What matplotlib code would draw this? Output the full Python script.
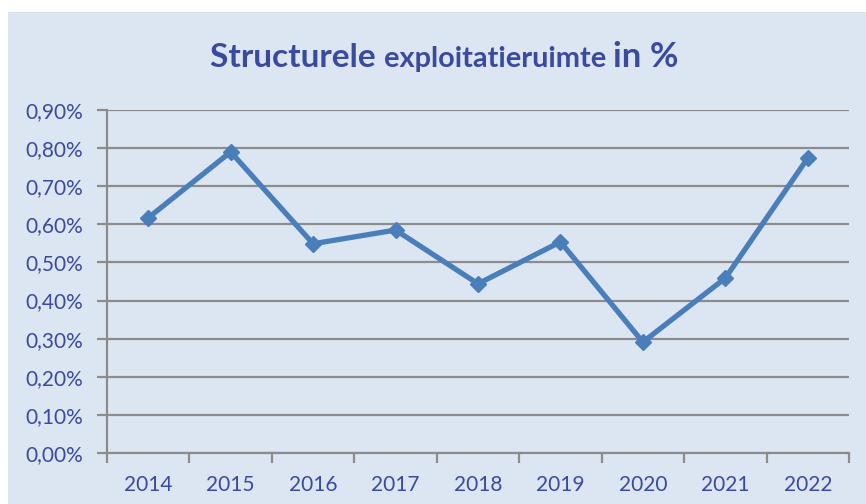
import matplotlib
matplotlib.use("Agg")
import matplotlib.pyplot as plt
from matplotlib.patches import Rectangle
from matplotlib.ticker import FuncFormatter, FixedLocator

years = ["2014", "2015", "2016", "2017", "2018", "2019", "2020", "2021", "2022"]
ruimte = [0.617, 0.790, 0.549, 0.585, 0.444, 0.554, 0.291, 0.459, 0.774]  # in %
y_ticks = [0.0, 0.1, 0.2, 0.3, 0.4, 0.5, 0.6, 0.7, 0.8, 0.9]

BG = "#DCE6F2"
TXT = "#3A4B9F"
LINE = "#4A7EBB"
GRID = "#8C8C8C"

plt.rcParams["font.family"] = ["Lato", "DejaVu Sans"]

fig = plt.figure(figsize=(8.66, 5.04), dpi=100)
fig.patch.set_facecolor("white")
fig.patches.append(Rectangle((8 / 866, 0), 1, 1 - 12 / 504, transform=fig.transFigure,
                             facecolor=BG, edgecolor="none", zorder=-5))

ax = fig.add_axes([107 / 866, 51 / 504, 742 / 866, 343 / 504])
ax.set_facecolor(BG)

xs = [i + 0.5 for i in range(len(years))]
ax.plot(xs, ruimte, color=LINE, lw=3.8, marker="D", ms=8.5, mfc=LINE, mec=LINE,
        solid_joinstyle="miter", zorder=3, clip_on=False)

ax.set_xlim(0, len(years))
ax.set_ylim(0, 0.9)
ax.set_yticks(y_ticks)
ax.yaxis.set_major_formatter(FuncFormatter(lambda v, p: f"{v:.2f}%".replace(".", ",")))
ax.grid(axis="y", color=GRID, lw=1.6)
ax.set_axisbelow(True)

ax.xaxis.set_major_locator(FixedLocator(range(len(years) + 1)))
ax.xaxis.set_major_formatter(FuncFormatter(lambda v, p: ""))
ax.xaxis.set_minor_locator(FixedLocator(xs))
ax.set_xticklabels(years, minor=True)
ax.tick_params(axis="x", which="minor", length=0, pad=16, labelsize=15, labelcolor=TXT)
ax.tick_params(axis="x", which="major", length=7, width=1.6, color=GRID, direction="out")
ax.tick_params(axis="y", length=7, width=1.6, color=GRID, pad=10, labelsize=15, labelcolor=TXT)

for s in ["top", "right"]:
    ax.spines[s].set_visible(False)
for s in ["left", "bottom"]:
    ax.spines[s].set_color(GRID)
    ax.spines[s].set_linewidth(1.6)

# title with mixed sizes
parts = [("Structurele ", 24), ("exploitatieruimte ", 20.8), ("in %", 25)]
fig.canvas.draw()
r = fig.canvas.get_renderer()
texts = []
for s, fs in parts:
    t = fig.text(0, 1 - 67 / 504, s, fontsize=fs, fontweight="bold", color=TXT,
                 va="baseline", ha="left")
    texts.append(t)
widths = [t.get_window_extent(r).width for t in texts]
x = 444 - sum(widths) / 2
for t, w in zip(texts, widths):
    t.set_x(x / 866)
    x += w

fig.savefig("out.png", dpi=100, facecolor=fig.get_facecolor())
